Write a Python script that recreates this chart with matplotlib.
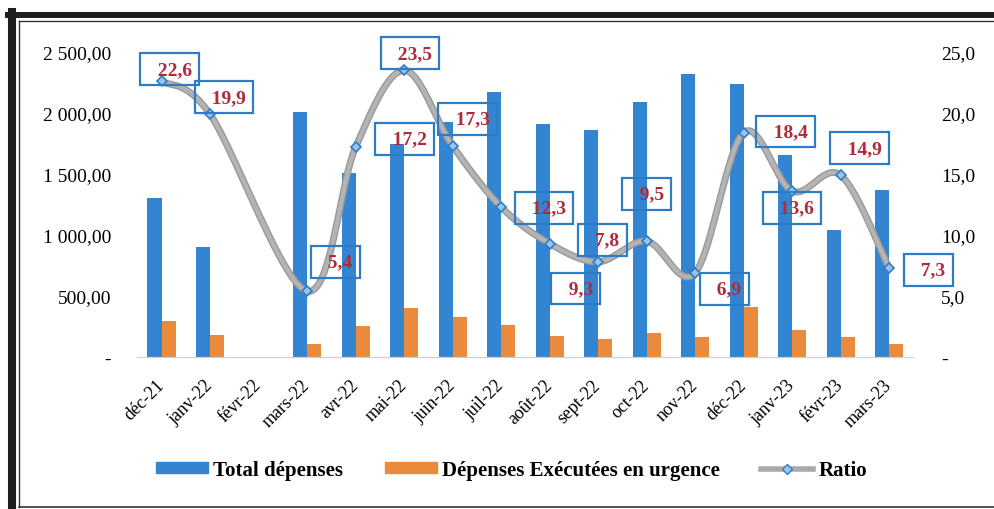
import numpy as np
import matplotlib
matplotlib.use('Agg')
import matplotlib.pyplot as plt
from matplotlib.lines import Line2D
from matplotlib.patches import Patch

plt.rcParams['font.family'] = ['Liberation Serif', 'DejaVu Serif']

mois = ['déc-21', 'janv-22', 'févr-22', 'mars-22', 'avr-22', 'mai-22', 'juin-22', 'juil-22',
        'août-22', 'sept-22', 'oct-22', 'nov-22', 'déc-22', 'janv-23', 'févr-23', 'mars-23']
total = [1300, 900, 0, 2010, 1510, 1750, 1930, 2170, 1910, 1860, 2090, 2320, 2240, 1660, 1040, 1370]
urgence = [295, 180, 0, 107, 254, 402, 328, 262, 172, 148, 197, 164, 410, 221, 164, 107]
ratio = [22.6, 19.9, np.nan, 5.4, 17.2, 23.5, 17.3, 12.3, 9.3, 7.8, 9.5, 6.9, 18.4, 13.6, 14.9, 7.3]

# position of each label box relative to its point (pixels)
lbl_off = [(8, 12), (14, 17), (0, 0), (28, 29), (49, 8), (6, 17), (15, 27), (43, -1),
           (26, -45), (4, 22), (0, 47), (29, -16), (42, 1), (0, -17), (19, 27), (39, -2)]

blue = '#3385D2'
orange = '#EA8A3C'
gray = '#ABABAB'
red = '#B02A3A'
boxblue = '#2E7CC6'


def fmt_left(v):
    if v == 0:
        return '-'
    s = f'{v:,.2f}'.replace(',', ' ').replace('.', ',')
    return s


def fmt_right(v):
    if v == 0:
        return '-'
    return f'{v:.1f}'.replace('.', ',')


def smooth(xs, ys, n=40):
    # excel-like smoothed line (catmull-rom bezier)
    P = np.column_stack([xs, ys])
    P = np.vstack([P[0], P, P[-1]])
    t = np.linspace(0, 1, n)[:, None]
    out = []
    for i in range(1, len(P) - 2):
        p0, p1, p2, p3 = P[i - 1], P[i], P[i + 1], P[i + 2]
        c1 = p1 + (p2 - p0) / 6
        c2 = p2 - (p3 - p1) / 6
        seg = (1 - t) ** 3 * p1 + 3 * (1 - t) ** 2 * t * c1 + 3 * (1 - t) * t ** 2 * c2 + t ** 3 * p2
        out.append(seg)
    out = np.vstack(out)
    return out[:, 0], out[:, 1]


fig = plt.figure(figsize=(9.95, 5.1), dpi=100)
ax = fig.add_axes([0.138, 0.298, 0.780, 0.598])
ax2 = ax.twinx()

x = np.arange(len(mois))
w = 0.29
ax.bar(x - w / 2, total, w, color=blue, label='Total dépenses', zorder=2)
ax.bar(x + w / 2, urgence, w, color=orange, label='Dépenses Exécutées en urgence', zorder=2)

r = np.array(ratio)
ok = ~np.isnan(r)
sx, sy = smooth(x[ok], r[ok])
ax2.plot(sx, sy, color='#999999', lw=5, solid_capstyle='round', zorder=3)
ax2.plot(sx, sy, color='#B4B4B4', lw=3, solid_capstyle='round', zorder=3)
ax2.plot(x[ok], r[ok], ls='none', marker='D', ms=5, mfc='#9CC3EA', mec=boxblue, mew=1.2, zorder=4)

for i in range(len(mois)):
    if np.isnan(ratio[i]):
        continue
    ax2.annotate('  ' + fmt_right(ratio[i]), (x[i], ratio[i]), xytext=lbl_off[i],
                 textcoords='offset pixels', ha='center', va='center',
                 fontsize=14, fontweight='bold', color=red, zorder=5,
                 bbox=dict(boxstyle='square,pad=0.38', fc='none', ec=boxblue, lw=1.6))

ax.set_xlim(-0.5, len(mois) - 0.5)
ax.set_ylim(0, 2500)
ax2.set_ylim(0, 25)
ax.set_yticks(np.arange(0, 2501, 500))
ax.set_yticklabels([fmt_left(v) for v in np.arange(0, 2501, 500)], fontsize=14)
ax2.set_yticks(np.arange(0, 26, 5))
ax2.set_yticklabels([fmt_right(v) for v in np.arange(0, 26, 5)], fontsize=14)
ax.set_xticks(x)
ax.set_xticklabels(mois, rotation=45, ha='right', va='center', rotation_mode='anchor',
                   fontsize=13)

for a in (ax, ax2):
    for s in ('top', 'left', 'right'):
        a.spines[s].set_visible(False)
    a.spines['bottom'].set_color('#D0D0D0')
ax.tick_params(axis='y', length=0, pad=19)
ax2.tick_params(axis='y', length=0, pad=20)
ax.tick_params(axis='x', length=0, pad=18)

handles = [Patch(color=blue), Patch(color=orange),
           Line2D([], [], color='#AAAAAA', lw=4, marker='D', ms=5, mfc='#9CC3EA', mec=boxblue)]
fig.legend(handles, ['Total dépenses', 'Dépenses Exécutées en urgence', 'Ratio'],
           loc='center', bbox_to_anchor=(0.514, 0.0765), ncol=3, frameon=False,
           prop={'size': 15, 'weight': 'bold'}, handlelength=2.5, handleheight=0.4,
           handletextpad=0.25, columnspacing=2.0)

# scanned page frame
fig.add_artist(Line2D([0.008, 1.0], [0.9686, 0.9686], color='#1E1E1E', lw=4.3))
fig.add_artist(Line2D([0.0121, 0.0121], [0.0, 0.975], color='#1E1E1E', lw=5.8))
fig.add_artist(Line2D([0.019, 1.0], [0.9569, 0.9569], color='#333333', lw=1.0))
fig.add_artist(Line2D([0.0191, 0.0191], [0.0039, 0.9569], color='#333333', lw=1.0))
fig.add_artist(Line2D([0.0191, 1.0], [0.0039, 0.0039], color='#333333', lw=1.2))

fig.savefig('out.png', dpi=100)
